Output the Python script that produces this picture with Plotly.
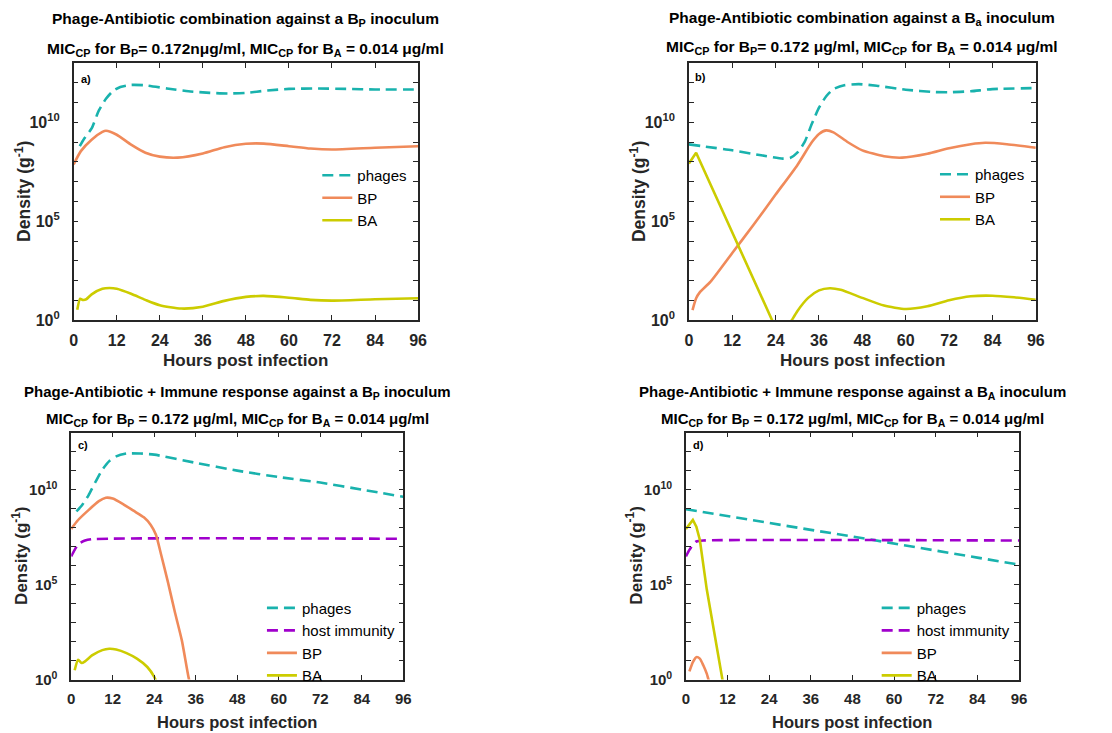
import plotly.graph_objects as go

W, H = 1112, 733

# ---------------- data (log10 of density, g^-1) ----------------
# Panel a: phage-antibiotic vs B_P inoculum
a_ph_t = [1.7, 3, 5, 7, 9, 11, 13, 16, 20, 26, 32, 38, 43, 48, 54, 60, 68, 76, 84, 96]
a_ph_v = [8.8, 9.2, 9.7, 10.6, 11.2, 11.6, 11.8, 11.9, 11.88, 11.72, 11.58, 11.5, 11.47, 11.5, 11.62, 11.7, 11.72, 11.7, 11.67, 11.67]
a_bp_t = [0, 2, 5, 8, 9, 12, 16, 20, 24, 29, 36, 42, 48, 53, 60, 66, 72, 84, 96]
a_bp_v = [7.88, 8.55, 9.13, 9.52, 9.58, 9.38, 8.88, 8.47, 8.27, 8.22, 8.43, 8.75, 8.92, 8.93, 8.8, 8.68, 8.63, 8.72, 8.8]
a_ba_t = [1, 1.8, 2.5, 3.5, 5, 8, 10, 12, 16, 20, 24, 30, 36, 42, 48, 53, 60, 66, 72, 84, 96]
a_ba_v = [0.52, 1.08, 1.02, 1.05, 1.3, 1.58, 1.62, 1.58, 1.33, 1.02, 0.75, 0.58, 0.67, 0.97, 1.17, 1.22, 1.13, 1.02, 0.98, 1.05, 1.1]

# Panel b: phage-antibiotic vs B_A inoculum
b_ph_t = [0, 12, 20, 26, 28, 30, 32, 34, 36, 38, 40, 43, 47, 52, 60, 68, 72, 78, 84, 96]
b_ph_v = [8.89, 8.59, 8.34, 8.17, 8.2, 8.47, 9.0, 9.92, 10.75, 11.33, 11.69, 11.88, 11.94, 11.86, 11.66, 11.54, 11.53, 11.58, 11.69, 11.74]
b_bp_t = [1, 2, 3, 6, 12, 18, 24, 30, 34, 36, 38, 40, 44, 48, 54, 59, 66, 72, 78, 82, 88, 96]
b_bp_v = [0.5, 1.1, 1.4, 1.94, 3.39, 4.85, 6.35, 7.84, 9.0, 9.42, 9.6, 9.5, 9.0, 8.59, 8.29, 8.22, 8.42, 8.7, 8.9, 8.97, 8.9, 8.72]
b_ba1_t = [0, 2, 23, 24.5]
b_ba1_v = [7.92, 8.47, 0.0, -0.6]
b_ba2_t = [27, 28.5, 30, 33, 36, 39, 42, 48, 54, 60, 66, 72, 78, 84, 90, 96]
b_ba2_v = [-0.45, 0.0, 0.45, 1.12, 1.5, 1.61, 1.53, 1.12, 0.73, 0.56, 0.7, 1.0, 1.2, 1.23, 1.15, 1.03]

# Panel c: phage-antibiotic + immune response vs B_P inoculum
c_ph_t = [1.5, 3, 5, 7, 9, 11, 13, 16, 20, 24, 36, 48, 60, 72, 84, 96]
c_ph_v = [8.85, 9.15, 9.7, 10.4, 11.05, 11.5, 11.75, 11.9, 11.9, 11.84, 11.41, 11.0, 10.66, 10.37, 10.0, 9.62]
c_im_t = [0, 1, 2, 4, 6, 96]
c_im_v = [6.49, 6.83, 7.13, 7.32, 7.39, 7.41]
c_bp_t = [0, 2, 5, 8, 10, 12, 15, 18, 21, 23, 24.5, 26, 28, 30, 32, 34, 35]
c_bp_v = [7.93, 8.4, 8.92, 9.39, 9.57, 9.53, 9.24, 8.89, 8.54, 8.14, 7.62, 6.57, 5.1, 3.53, 2.05, 0.05, -0.6]
c_ba_t = [1, 2, 3, 4, 6, 9, 11, 13, 16, 19, 22, 24, 25]
c_ba_v = [0.49, 1.04, 0.87, 0.96, 1.27, 1.55, 1.62, 1.58, 1.39, 1.1, 0.66, 0.14, -0.3]

# Panel d: phage-antibiotic + immune response vs B_A inoculum
d_ph_t = [0, 12, 24, 36, 48, 60, 72, 84, 96]
d_ph_v = [8.97, 8.6, 8.24, 7.88, 7.53, 7.15, 6.78, 6.42, 6.05]
d_im_t = [0, 1, 2, 3, 5, 96]
d_im_v = [6.49, 6.83, 7.1, 7.27, 7.32, 7.32]
d_bp_t = [1, 2, 3, 4, 5, 6, 6.5, 7.2]
d_bp_v = [0.43, 0.92, 1.18, 1.1, 0.75, 0.31, 0.0, -0.4]
d_ba_t = [0, 2, 3, 4, 6, 8, 10, 10.5, 11]
d_ba_v = [7.93, 8.4, 8.05, 7.36, 4.75, 2.66, 0.57, 0.0, -0.5]

x_ticks = [0, 12, 24, 36, 48, 60, 72, 84, 96]
y_minor_decades = list(range(0, 14))
y_major_decades = [0, 5, 10]
y_tick_labels = ["10<sup>0</sup>", "10<sup>5</sup>", "10<sup>10</sup>"]

titles = [
    ("Phage-Antibiotic combination against a B<sub>P</sub> inoculum",
     "MIC<sub>CP</sub> for B<sub>P</sub>= 0.172nμg/ml, MIC<sub>CP</sub> for B<sub>A</sub> = 0.014 μg/ml"),
    ("Phage-Antibiotic combination against a B<sub>a</sub> inoculum",
     "MIC<sub>CP</sub> for B<sub>P</sub>= 0.172 μg/ml, MIC<sub>CP</sub> for B<sub>A</sub> = 0.014 μg/ml"),
    ("Phage-Antibiotic + Immune response against a B<sub>P</sub> inoculum",
     "MIC<sub>CP</sub> for B<sub>P</sub> = 0.172 μg/ml, MIC<sub>CP</sub> for B<sub>A</sub> = 0.014 μg/ml"),
    ("Phage-Antibiotic + Immune response against a B<sub>A</sub> inoculum",
     "MIC<sub>CP</sub> for B<sub>P</sub> = 0.172 μg/ml, MIC<sub>CP</sub> for B<sub>A</sub> = 0.014 μg/ml"),
]
panel_labels = ["a)", "b)", "c)", "d)"]

# ---------------- styling / layout (pixels) ----------------
C_PH = "#19B2AD"
C_BP = "#F08A5A"
C_BA = "#CCCC00"
C_IM = "#A000CC"
FONT = "Liberation Sans, Arial, Helvetica, sans-serif"
AX = "#262626"

# (left, right, top, bottom) of each axes box in pixels
boxes = [(70.5, 419, 64, 324), (693, 1044, 64, 324), (68, 404, 438, 688), (690, 1027, 438, 688)]
title_y = [(20, 50), (19, 48), (397, 425), (397, 425)]
legend_pos = [(317, 161), (942, 160), (261, 599), (883, 599)]
label_pos = [(83, 80), (705, 78), (80, 451), (703, 451)]
tick_fs = [16, 16, 15, 15]
title_fs = [17, 17, 16.5, 16.5]
head_fs = [15.5, 15.5, 15, 15]

def px(x):
    return x / W

def py(y):
    return 1 - y / H

fig = go.Figure()

# (name, t, v, color, dashed, shape, showlegend)
series = [
    [("phages", a_ph_t, a_ph_v, C_PH, True, "spline", True), ("BP", a_bp_t, a_bp_v, C_BP, False, "spline", True),
     ("BA", a_ba_t, a_ba_v, C_BA, False, "spline", True)],
    [("phages", b_ph_t, b_ph_v, C_PH, True, "spline", True), ("BP", b_bp_t, b_bp_v, C_BP, False, "spline", True),
     ("BA", b_ba1_t, b_ba1_v, C_BA, False, "linear", True), ("BA", b_ba2_t, b_ba2_v, C_BA, False, "spline", False)],
    [("phages", c_ph_t, c_ph_v, C_PH, True, "spline", True), ("host immunity", c_im_t, c_im_v, C_IM, True, "spline", True),
     ("BP", c_bp_t, c_bp_v, C_BP, False, "spline", True), ("BA", c_ba_t, c_ba_v, C_BA, False, "spline", True)],
    [("phages", d_ph_t, d_ph_v, C_PH, True, "linear", True), ("host immunity", d_im_t, d_im_v, C_IM, True, "spline", True),
     ("BP", d_bp_t, d_bp_v, C_BP, False, "spline", True), ("BA", d_ba_t, d_ba_v, C_BA, False, "linear", True)],
]

layout = {}
annotations = []
for i in range(4):
    sfx = "" if i == 0 else str(i + 1)
    leg = "legend" if i == 0 else "legend" + str(i + 1)
    for name, t, v, col, dashed, shape, sl in series[i]:
        line = dict(color=col, width=2.6, dash="11px,6px" if dashed else "solid", shape=shape)
        if shape == "spline":
            line["smoothing"] = 0.6
        fig.add_trace(go.Scatter(
            x=t, y=[10 ** val for val in v], name=name, mode="lines", line=line,
            xaxis="x" + sfx, yaxis="y" + sfx, legend=leg, showlegend=sl,
        ))
    l, r, tp, b = boxes[i]
    layout["xaxis" + sfx] = dict(
        domain=[px(l), px(r)], anchor="y" + sfx, range=[0, 96],
        tickvals=x_ticks, ticks="inside", ticklen=5, tickwidth=1.2, tickcolor=AX,
        showline=True, linecolor=AX, linewidth=1.5, mirror="allticks",
        showgrid=False, zeroline=False, ticklabelstandoff=5,
        tickfont=dict(family=FONT, size=tick_fs[i], color=AX, weight="bold"),
    )
    layout["yaxis" + sfx] = dict(
        domain=[py(b), py(tp)], anchor="x" + sfx, type="log", range=[0, 13],
        tickvals=[10 ** k for k in y_major_decades], ticktext=y_tick_labels,
        ticks="inside", ticklen=5, tickwidth=1.2, tickcolor=AX,
        minor=dict(tickvals=[10 ** k for k in y_minor_decades], ticks="inside", ticklen=5,
                   tickwidth=1.2, tickcolor=AX, showgrid=False),
        showline=True, linecolor=AX, linewidth=1.5, mirror="allticks",
        showgrid=False, zeroline=False, ticklabelstandoff=9,
        tickfont=dict(family=FONT, size=tick_fs[i], color=AX, weight="bold"),
    )
    lx, ly = legend_pos[i]
    layout[leg] = dict(
        x=px(lx), y=py(ly), xanchor="left", yanchor="top", bgcolor="rgba(0,0,0,0)",
        borderwidth=0, font=dict(family=FONT, size=15, color="#000000"),
        tracegroupgap=0, traceorder="normal",
    )
    cx = (l + r) / 2
    t1, t2 = titles[i]
    annotations.append(dict(text="<b>" + t1 + "</b>", x=px(cx), y=py(title_y[i][0]), xref="paper", yref="paper",
                            showarrow=False, xanchor="center", yanchor="middle",
                            font=dict(family=FONT, size=head_fs[i], color="#000000")))
    annotations.append(dict(text="<b>" + t2 + "</b>", x=px(cx), y=py(title_y[i][1]), xref="paper", yref="paper",
                            showarrow=False, xanchor="center", yanchor="middle",
                            font=dict(family=FONT, size=head_fs[i], color="#000000")))
    annotations.append(dict(text="<b>" + panel_labels[i] + "</b>", x=px(label_pos[i][0]), y=py(label_pos[i][1]),
                            xref="paper", yref="paper", showarrow=False, xanchor="center", yanchor="middle",
                            font=dict(family=FONT, size=11, color="#000000")))
    # axis titles
    annotations.append(dict(text="<b>Hours post infection</b>", x=px(cx), y=py(b + 41 if i < 2 else b + 43),
                            xref="paper", yref="paper", showarrow=False, xanchor="center", yanchor="middle",
                            font=dict(family=FONT, size=title_fs[i], color=AX)))
    annotations.append(dict(text="<b>Density (g<sup>-1</sup>)</b>", x=px(l - 52), y=py((tp + b) / 2),
                            xref="paper", yref="paper", showarrow=False, xanchor="center", yanchor="middle",
                            textangle=-90, font=dict(family=FONT, size=title_fs[i] + 0.5, color=AX)))

fig.update_layout(
    width=W, height=H, margin=dict(l=0, r=0, t=0, b=0),
    paper_bgcolor="white", plot_bgcolor="white",
    annotations=annotations, **layout,
)

fig.write_html("out.html")
